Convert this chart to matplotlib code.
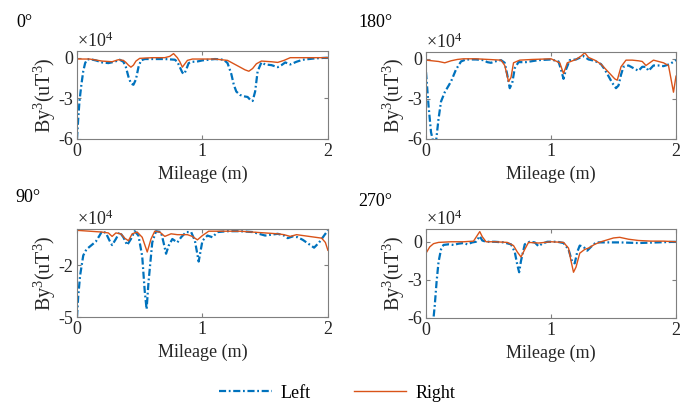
import matplotlib
matplotlib.use("Agg")
import matplotlib.pyplot as plt
from matplotlib.lines import Line2D

plt.rcParams['font.family'] = ['Liberation Serif', 'DejaVu Serif']
plt.rcParams['mathtext.fontset'] = 'custom'
plt.rcParams['mathtext.rm'] = 'Liberation Serif'
plt.rcParams['mathtext.it'] = 'Liberation Serif'
plt.rcParams['axes.unicode_minus'] = False

# ---- data (units of 1e4 uT^3) ----
x0_left = [0, 0.01, 0.02, 0.035, 0.05, 0.065, 0.08, 0.1, 0.15, 0.2, 0.25, 0.3, 0.34, 0.37,
           0.39, 0.41, 0.43, 0.45, 0.47, 0.49, 0.51, 0.54, 0.6, 0.7, 0.78, 0.8, 0.82, 0.84,
           0.855, 0.87, 0.89, 0.92, 0.95, 1.0, 1.1, 1.17, 1.2, 1.23, 1.25, 1.27, 1.3, 1.33,
           1.36, 1.38, 1.4, 1.42, 1.44, 1.47, 1.5, 1.55, 1.6, 1.63, 1.66, 1.7, 1.75, 1.8,
           1.9, 2.0]
y0_left = [-6, -4.5, -3.2, -2.0, -1.0, -0.4, -0.15, -0.1, -0.2, -0.35, -0.4, -0.3, -0.15,
           -0.3, -0.7, -1.4, -1.9, -2.0, -1.6, -0.7, -0.2, -0.1, -0.1, -0.1, -0.15, -0.3,
           -0.7, -1.1, -1.2, -0.9, -0.4, -0.3, -0.3, -0.2, -0.1, -0.15, -0.4, -1.2, -2.0,
           -2.5, -2.75, -2.85, -2.9, -3.1, -3.2, -2.5, -1.0, -0.35, -0.5, -0.55, -0.7,
           -0.55, -0.35, -0.5, -0.3, -0.15, -0.05, 0]
x0_right = [0, 0.1, 0.2, 0.28, 0.33, 0.37, 0.39, 0.41, 0.43, 0.45, 0.47, 0.5, 0.6, 0.7,
            0.74, 0.77, 0.8, 0.82, 0.84, 0.86, 0.88, 0.92, 1.0, 1.1, 1.2, 1.25, 1.3, 1.34,
            1.37, 1.4, 1.43, 1.47, 1.55, 1.6, 1.65, 1.7, 1.8, 2.0]
y0_right = [-0.1, -0.1, -0.25, -0.3, -0.15, -0.2, -0.35, -0.55, -0.7, -0.55, -0.25, -0.05,
            0, 0, 0.1, 0.3, 0, -0.3, -0.7, -0.45, -0.2, -0.1, -0.1, -0.1, -0.2, -0.45, -0.7,
            -0.9, -1.0, -0.8, -0.45, -0.25, -0.3, -0.35, -0.2, 0, 0, 0]

x180_left = [0, 0.02, 0.04, 0.06, 0.08, 0.1, 0.12, 0.15, 0.2, 0.24, 0.28, 0.32, 0.4, 0.46,
             0.49, 0.52, 0.55, 0.6, 0.63, 0.65, 0.67, 0.69, 0.71, 0.74, 0.8, 0.9, 1.0, 1.06,
             1.08, 1.1, 1.12, 1.15, 1.2, 1.26, 1.3, 1.35, 1.4, 1.43, 1.46, 1.49, 1.52, 1.54,
             1.56, 1.58, 1.62, 1.66, 1.7, 1.73, 1.76, 1.78, 1.82, 1.86, 1.9, 1.95, 2.0]
y180_left = [-1.0, -3.5, -5.5, -6.3, -6.2, -4.5, -3.2, -2.5, -1.7, -0.8, -0.2, -0.05, -0.05,
             -0.1, -0.25, -0.3, -0.2, -0.1, -0.3, -1.2, -2.2, -1.8, -0.7, -0.25, -0.25, -0.1,
             -0.05, -0.2, -0.8, -1.5, -0.8, -0.1, -0.05, 0.2, -0.05, -0.15, -0.4, -0.8, -1.3,
             -1.8, -2.2, -2.0, -1.2, -0.6, -0.5, -0.7, -0.9, -0.6, -0.6, -0.9, -0.5, -0.5,
             -0.55, -0.4, -0.1]
x180_right = [0, 0.05, 0.1, 0.15, 0.2, 0.25, 0.3, 0.4, 0.5, 0.6, 0.63, 0.66, 0.68, 0.7, 0.75,
              0.85, 1.0, 1.07, 1.1, 1.13, 1.2, 1.24, 1.27, 1.3, 1.35, 1.4, 1.44, 1.48, 1.51,
              1.53, 1.56, 1.6, 1.65, 1.7, 1.73, 1.76, 1.79, 1.82, 1.86, 1.9, 1.94, 1.96, 1.98,
              2.0]
y180_right = [-0.1, -0.15, -0.2, -0.3, -0.15, -0.05, 0, 0, -0.05, -0.1, -0.5, -1.7, -1.4,
              -0.3, -0.1, -0.05, 0, -0.3, -1.1, -0.3, -0.05, 0.2, 0.45, 0.1, -0.1, -0.4, -0.8,
              -1.2, -1.5, -1.6, -0.6, -0.1, -0.1, -0.15, -0.2, -0.5, -0.3, -0.1, -0.2, -0.3,
              -0.5, -1.5, -2.5, -1.3]

x90_left = [0, 0.01, 0.025, 0.05, 0.075, 0.1, 0.15, 0.18, 0.2, 0.23, 0.26, 0.28, 0.31, 0.34,
            0.37, 0.4, 0.43, 0.46, 0.49, 0.52, 0.54, 0.555, 0.57, 0.6, 0.63, 0.67, 0.69, 0.71,
            0.73, 0.76, 0.8, 0.83, 0.87, 0.91, 0.94, 0.97, 1.0, 1.04, 1.08, 1.12, 1.2, 1.3,
            1.4, 1.45, 1.5, 1.55, 1.6, 1.65, 1.68, 1.72, 1.76, 1.8, 1.85, 1.89, 1.93, 1.97, 2.0]
y90_left = [-5, -3.8, -2.6, -1.45, -1.1, -0.95, -0.65, -0.3, -0.05, -0.15, -0.6, -0.85, -0.5,
            -0.1, -0.4, -0.85, -0.5, -0.05, -0.3, -1.5, -3.5, -4.55, -3.0, -0.7, -0.05, -0.1,
            -0.7, -1.35, -0.9, -0.5, -0.7, -0.4, -0.1, -0.1, -0.6, -1.8, -0.6, -0.3, -0.4,
            -0.1, -0.05, -0.05, -0.1, -0.2, -0.3, -0.25, -0.2, -0.3, -0.45, -0.35, -0.4, -0.55,
            -0.8, -1.0, -0.7, -0.3, 0]
x90_right = [0, 0.1, 0.2, 0.25, 0.28, 0.31, 0.35, 0.38, 0.41, 0.44, 0.48, 0.52, 0.56, 0.59,
             0.62, 0.66, 0.7, 0.75, 0.8, 0.88, 0.92, 0.96, 1.0, 1.05, 1.2, 1.3, 1.4, 1.5, 1.6,
             1.65, 1.7, 1.75, 1.8, 1.85, 1.9, 1.95, 1.98, 2.0]
y90_right = [0, -0.05, -0.1, -0.15, -0.35, -0.15, -0.2, -0.45, -0.6, -0.2, -0.1, -0.4, -1.25,
             -0.5, -0.05, -0.1, -0.35, -0.2, -0.25, -0.25, -0.35, -0.55, -0.3, -0.05, -0.05,
             -0.05, -0.1, -0.15, -0.2, -0.25, -0.35, -0.25, -0.3, -0.35, -0.4, -0.45, -0.7, -1.15]

x270_left = [0.05, 0.07, 0.085, 0.1, 0.12, 0.14, 0.18, 0.22, 0.26, 0.3, 0.33, 0.37, 0.4, 0.42,
             0.43, 0.45, 0.48, 0.55, 0.62, 0.68, 0.71, 0.73, 0.745, 0.76, 0.79, 0.83, 0.87,
             0.9, 0.93, 0.97, 1.05, 1.1, 1.14, 1.17, 1.19, 1.21, 1.23, 1.26, 1.29, 1.32, 1.36,
             1.45, 1.55, 1.7, 1.85, 2.0]
y270_left = [-7, -5, -3.1, -1.6, -0.6, -0.25, -0.2, -0.25, -0.15, -0.1, -0.2, -0.05, 0.0, 0.3,
             0.45, 0.1, 0, 0, -0.05, -0.2, -0.8, -1.8, -2.4, -1.5, -0.2, 0, -0.05, -0.35,
             -0.15, 0, 0, -0.1, -0.6, -1.6, -1.7, -0.8, -0.3, -0.4, -0.7, -0.4, -0.05, -0.05,
             -0.05, -0.1, -0.05, 0]
x270_right = [0, 0.03, 0.06, 0.1, 0.2, 0.3, 0.38, 0.41, 0.43, 0.45, 0.48, 0.55, 0.65, 0.7,
              0.73, 0.76, 0.79, 0.82, 0.9, 1.0, 1.1, 1.14, 1.16, 1.18, 1.2, 1.23, 1.27, 1.3,
              1.35, 1.4, 1.45, 1.5, 1.55, 1.62, 1.7, 1.8, 1.9, 2.0]
y270_right = [-0.9, -0.4, -0.15, -0.05, 0, 0, 0.05, 0.5, 0.8, 0.4, 0, 0, -0.05, -0.3, -0.8,
              -1.2, -0.6, -0.05, -0.1, 0, -0.05, -0.5, -1.5, -2.4, -2.0, -0.9, -0.6, -0.5,
              -0.2, 0, 0.15, 0.3, 0.35, 0.2, 0.1, 0.05, 0.05, 0]

titles = ['0°', '180°', '90°', '270°']
x_ticks = [0, 1, 2]

BLUE = '#0072BD'
ORANGE = '#D95319'
FS = 13
BLUE_LW = 1.6
BLUE_DASH = (3.2, 1.2, 0.8, 1.2)

fig = plt.figure(figsize=(6.8, 4.04), dpi=100)

panels = [
    # rect, title pos, left, right, ylim, yticks
    ([0.1132, 0.656, 0.369, 0.218], (0.024, 0.945), (x0_left, y0_left), (x0_right, y0_right),
     (-6, 0.5), [-6, -3, 0]),
    ([0.6265, 0.656, 0.3676, 0.215], (0.527, 0.945), (x180_left, y180_left), (x180_right, y180_right),
     (-6, 0.5), [-6, -3, 0]),
    ([0.1132, 0.2153, 0.369, 0.218], (0.022, 0.51), (x90_left, y90_left), (x90_right, y90_right),
     (-5, 0.08), [-5, -2]),
    ([0.6265, 0.213, 0.3676, 0.22], (0.527, 0.50), (x270_left, y270_left), (x270_right, y270_right),
     (-6, 1.0), [-6, -3, 0]),
]

for (rect, tpos, left, right, ylim, yticks), title in zip(panels, titles):
    ax = fig.add_axes(rect)
    ax.plot(left[0], left[1], color=BLUE, lw=BLUE_LW, dashes=BLUE_DASH)
    ax.plot(right[0], right[1], color=ORANGE, lw=1.0)
    ax.set_xlim(0, 2)
    ax.set_ylim(*ylim)
    ax.set_xticks(x_ticks)
    ax.set_yticks(yticks)
    ax.tick_params(direction='in', length=3, top=True, right=True, labelsize=FS,
                   colors='#7f7f7f', labelcolor='#262626', pad=3)
    for s in ax.spines.values():
        s.set_color('#7f7f7f')
        s.set_linewidth(0.8)
    ax.set_xlabel('Mileage (m)', fontsize=FS, color='#262626', labelpad=4)
    ax.set_ylabel('By$^3$(uT$^3$)', fontsize=14.5, color='#262626', labelpad=0)
    ax.text(0.0, 1.0, r'$\times$10$^4$', transform=ax.transAxes, fontsize=FS,
            color='#262626', ha='left', va='bottom')
    fig.text(tpos[0], tpos[1], title, fontsize=FS, ha='left', va='center')

handles = [Line2D([], [], color=BLUE, lw=BLUE_LW, dashes=BLUE_DASH),
           Line2D([], [], color=ORANGE, lw=1.0)]
fig.legend(handles, ['Left', 'Right'], loc='center', bbox_to_anchor=(0.496, 0.027),
           ncol=2, frameon=False, fontsize=FS, handlelength=2.9, columnspacing=2.4,
           handletextpad=0.5)

fig.savefig('out.png', dpi=100)
